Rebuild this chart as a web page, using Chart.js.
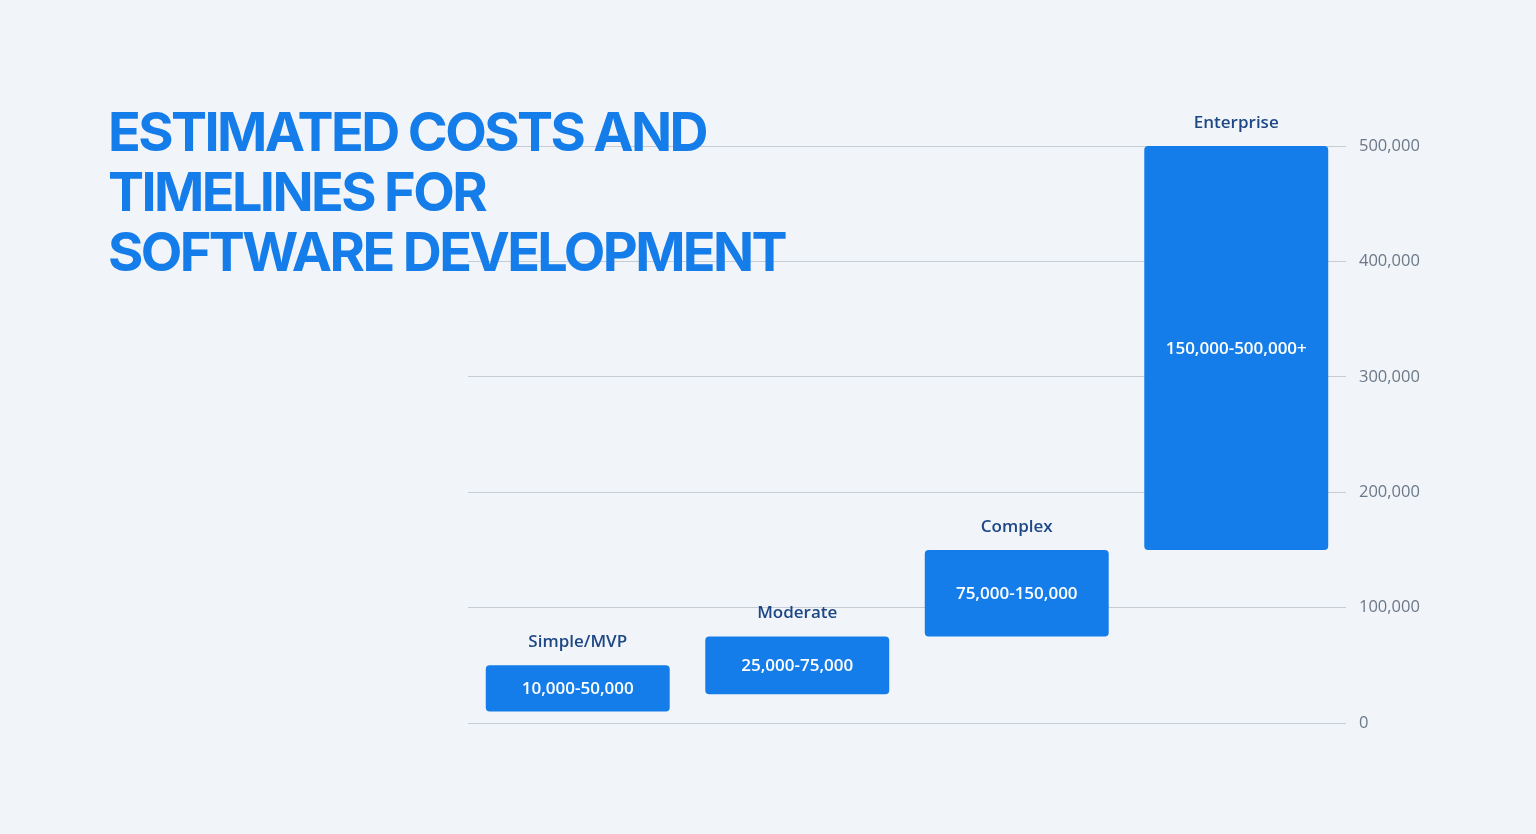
<!DOCTYPE html>
<html>
<head>
<meta charset="utf-8">
<script src="https://cdn.jsdelivr.net/npm/chart.js@4"></script>
<style>
  html, body { margin: 0; padding: 0; background: #f1f4f8; }
  body { width: 1536px; height: 834px; position: relative; overflow: hidden; }
  #wrap { position: absolute; left: 0; top: 0; width: 1536px; height: 834px; }
  h1 {
    position: absolute; left: 108px; top: 102px; margin: 0; z-index: 2;
    font-family: Inter, "Noto Sans", sans-serif; font-weight: 700;
    font-size: 54px; line-height: 60px; letter-spacing: -2.6px;
    color: #157de9; pointer-events: none;
  }
</style>
</head>
<body>
<div id="wrap"><canvas id="costChart"></canvas></div>
<h1>ESTIMATED COSTS AND<br>TIMELINES FOR<br>SOFTWARE DEVELOPMENT</h1>
<script>
const tiers = ['Simple/MVP', 'Moderate', 'Complex', 'Enterprise'];
const costLow = [10000, 25000, 75000, 150000];
const costHigh = [50000, 75000, 150000, 500000];
const openEnded = [false, false, false, true];
const yTicks = [0, 100000, 200000, 300000, 400000, 500000];

const fmt = v => v.toLocaleString('en-US');

// labels: tier name above the bar, cost range inside it
const barLabels = {
    id: 'barLabels',
    afterDatasetsDraw(chart) {
        const ctx = chart.ctx;
        const meta = chart.getDatasetMeta(0);
        ctx.save();
        ctx.textAlign = 'center';
        ctx.textBaseline = 'middle';
        meta.data.forEach((bar, i) => {
            const top = Math.min(bar.y, bar.base);
            const bottom = Math.max(bar.y, bar.base);
            ctx.fillStyle = '#1d4785';
            ctx.font = '600 17px "Open Sans", sans-serif';
            ctx.fillText(tiers[i], bar.x, top - 23);
            ctx.fillStyle = '#ffffff';
            ctx.font = '600 17px "Open Sans", sans-serif';
            ctx.fillText(fmt(costLow[i]) + '-' + fmt(costHigh[i]) + (openEnded[i] ? '+' : ''), bar.x, (top + bottom) / 2 + 1);
        });
        ctx.restore();
    }
};

new Chart(document.getElementById('costChart').getContext('2d'), {
    type: 'bar',
    data: {
        labels: tiers,
        datasets: [{
            data: tiers.map((t, i) => [costLow[i], costHigh[i]]),
            backgroundColor: '#157de9',
            borderRadius: 4,
            borderSkipped: false,
            categoryPercentage: 1,
            barPercentage: 0.838
        }]
    },
    options: {
        responsive: true,
        maintainAspectRatio: false,
        animation: false,
        layout: { padding: { left: 468, top: 146, bottom: 111, right: 90 } },
        plugins: { legend: { display: false }, tooltip: { enabled: false } },
        scales: {
            x: { display: false },
            y: {
                position: 'right',
                min: 0,
                max: 500000,
                afterFit: s => { s.width = 100; },
                afterBuildTicks: s => { s.ticks = yTicks.map(v => ({ value: v })); },
                border: { display: false },
                grid: { color: '#c6ccd4', lineWidth: 1, drawTicks: false },
                ticks: {
                    padding: 13,
                    color: '#6b7888',
                    font: { family: '"Open Sans", sans-serif', size: 16.5 },
                    callback: v => fmt(v)
                }
            }
        }
    },
    plugins: [barLabels]
});
</script>
</body>
</html>
